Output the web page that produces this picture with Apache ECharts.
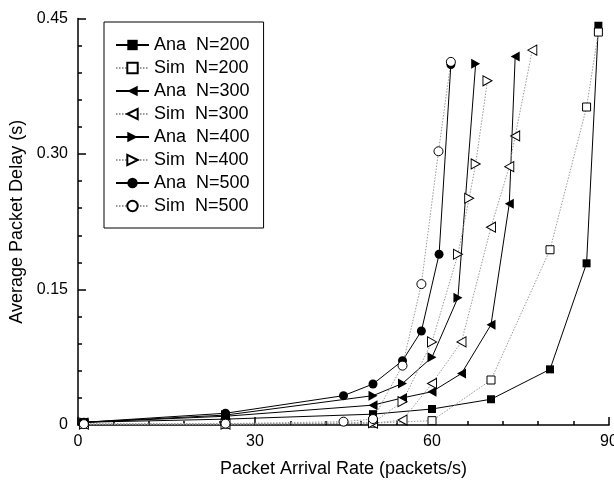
<!DOCTYPE html>
<html>
<head>
<meta charset="utf-8">
<script src="https://cdn.jsdelivr.net/npm/echarts@6/dist/echarts.min.js"></script>
<style>
  html, body { margin: 0; padding: 0; background: #fff; }
  #main { width: 614px; height: 482px; }
</style>
</head>
<body>
<div id="main"></div>
<script>
// values
const xAna200 = [1, 25, 50, 60, 70, 80, 86.2, 88.2];
const yAna200 = [0.003, 0.0065, 0.012, 0.0177, 0.0285, 0.0616, 0.179, 0.442];
const xSim200 = [1, 25, 50, 60, 70, 80, 86.2, 88.2];
const ySim200 = [0.001, 0.001, 0.002, 0.0048, 0.0498, 0.194, 0.352, 0.435];
const xAna300 = [1, 25, 50, 55, 60, 65, 70, 73.1, 74.1];
const yAna300 = [0.003, 0.0097, 0.022, 0.030, 0.0369, 0.057, 0.111, 0.245, 0.408];
const xSim300 = [1, 25, 50, 55, 60, 65, 70, 73.1, 74.1, 77];
const ySim300 = [0.001, 0.001, 0.002, 0.0055, 0.046, 0.092, 0.219, 0.286, 0.32, 0.415];
const xAna400 = [1, 25, 50, 55, 60, 64.4, 67.4];
const yAna400 = [0.003, 0.011, 0.0325, 0.046, 0.075, 0.141, 0.40];
const xSim400 = [1, 25, 50, 55, 60, 64.4, 66.3, 67.4, 69.4];
const ySim400 = [0.001, 0.001, 0.0026, 0.0258, 0.092, 0.189, 0.251, 0.289, 0.381];
const xAna500 = [1, 25, 45, 50, 55, 58.2, 61.2, 63.2];
const yAna500 = [0.003, 0.013, 0.0325, 0.0454, 0.0712, 0.104, 0.189, 0.399];
const xSim500 = [1, 25, 45, 50, 55, 58.2, 61.1, 63.2];
const ySim500 = [0.001, 0.0015, 0.0037, 0.0066, 0.0657, 0.156, 0.303, 0.402];

const seriesNames = ['Ana  N=200', 'Sim  N=200', 'Ana  N=300', 'Sim  N=300',
                     'Ana  N=400', 'Sim  N=400', 'Ana  N=500', 'Sim  N=500'];
const yTickLabels = ['0', '0.15', '0.30', '0.45'];

const FONT = 'Liberation Sans, Arial, sans-serif';
const triLeft = 'path://M0,5L10,0L10,10Z';
const triRight = 'path://M10,5L0,0L0,10Z';

function zip(xs, ys) {
    return xs.map((x, i) => [x, ys[i]]);
}

function ana(name, xs, ys, symbol, size) {
    return {
        name: name,
        type: 'line',
        data: zip(xs, ys),
        symbol: symbol,
        symbolSize: size,
        lineStyle: { color: '#000', width: 1 },
        itemStyle: { color: '#000', borderColor: '#000', borderWidth: 0 }
    };
}

function sim(name, xs, ys, symbol, size) {
    return {
        name: name,
        type: 'line',
        data: zip(xs, ys),
        symbol: symbol,
        symbolSize: size,
        lineStyle: { color: '#999', width: 1, type: [1.5, 1.5] },
        itemStyle: { color: '#fff', borderColor: '#000', borderWidth: 1 }
    };
}

var myChart = echarts.init(document.getElementById('main'));
const option = {
    animation: false,
    backgroundColor: '#fff',
    grid: { left: 78, right: 5, top: 18.5, bottom: 57, outerBoundsMode: 'none' },
    legend: {
        data: seriesNames,
        orient: 'vertical',
        left: 104,
        top: 22,
        itemWidth: 33,
        itemHeight: 13,
        itemGap: 5,
        padding: [14, 14, 13, 11],
        borderColor: '#000',
        borderWidth: 1,
        textStyle: { fontSize: 18, color: '#000', fontFamily: FONT }
    },
    xAxis: {
        type: 'value',
        min: 0,
        max: 90,
        interval: 30,
        name: 'Packet Arrival Rate (packets/s)',
        nameLocation: 'middle',
        nameGap: 35,
        nameTextStyle: { fontSize: 18, color: '#000', fontFamily: FONT },
        axisLine: { lineStyle: { color: '#000', width: 1.5 } },
        axisTick: { inside: true, length: 8, lineStyle: { color: '#000', width: 1.5 } },
        minorTick: { show: true, splitNumber: 5, length: 4, lineStyle: { color: '#000', width: 1.5 } },
        splitLine: { show: false },
        axisLabel: {
            fontSize: 16, color: '#000', fontFamily: FONT, margin: 9,
            showMaxLabel: true, alignMaxLabel: 'center', hideOverlap: false
        }
    },
    yAxis: {
        type: 'value',
        min: 0,
        max: 0.45,
        interval: 0.15,
        name: 'Average Packet Delay (s)',
        nameLocation: 'middle',
        nameGap: 50,
        nameTextStyle: { fontSize: 18, color: '#000', fontFamily: FONT },
        axisLine: { show: true, lineStyle: { color: '#000', width: 1.5 } },
        axisTick: { show: true, inside: true, length: 8, lineStyle: { color: '#000', width: 1.5 } },
        minorTick: { show: true, splitNumber: 5, length: 4, lineStyle: { color: '#000', width: 1.5 } },
        splitLine: { show: false },
        axisLabel: {
            fontSize: 16, color: '#000', fontFamily: FONT, margin: 10,
            formatter: function (v) { return yTickLabels[Math.round(v / 0.15)]; }
        }
    },
    series: [
        ana(seriesNames[0], xAna200, yAna200, 'rect', 8),
        sim(seriesNames[1], xSim200, ySim200, 'rect', 8),
        ana(seriesNames[2], xAna300, yAna300, triLeft, [9, 10]),
        sim(seriesNames[3], xSim300, ySim300, triLeft, [9, 10]),
        ana(seriesNames[4], xAna400, yAna400, triRight, [9, 10]),
        sim(seriesNames[5], xSim400, ySim400, triRight, [9, 10]),
        ana(seriesNames[6], xAna500, yAna500, 'circle', 9),
        sim(seriesNames[7], xSim500, ySim500, 'circle', 9)
    ]
};
myChart.setOption(option);
</script>
</body>
</html>
